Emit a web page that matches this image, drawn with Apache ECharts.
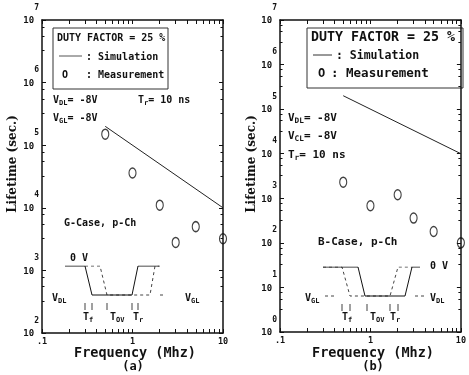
<!DOCTYPE html>
<html>
<head>
<meta charset="utf-8">
<script src="https://cdn.jsdelivr.net/npm/echarts@6/dist/echarts.min.js"></script>
<style>
  html, body { margin: 0; padding: 0; background: #fff; }
  #chart { width: 469px; height: 375px; }
</style>
</head>
<body>
<div id="chart"></div>
<script>
// Lifetime vs. switching frequency, duty factor 25 %
const simFreq = [0.5, 10];
const simLife = [2.0e5, 1.0e4];
const measFreq = [0.5, 1, 2, 3, 5, 10];
const measLifeG = [1.5e5, 3.6e4, 1.1e4, 2.8e3, 5.0e3, 3.2e3];   // (a) G-Case
const measLifeB = [2.3e3, 6.8e2, 1.2e3, 3.6e2, 1.8e2, 1.0e2];   // (b) B-Case
const xTickLabels = { 0.1: '.1', 1: '1', 10: '10' };
const xMinorValues = [0.1,0.2,0.3,0.4,0.5,0.6,0.7,0.8,0.9,1,2,3,4,5,6,7,8,9,10];

// Pulse schematics (time units, level 1 = 0 V, level 0 = low level)
const waveA_solid  = [[5,1],[25,1],[32,0],[72,0],[78,1],[99,1]];
const waveA_dashed = [[25,1],[40,1],[47,0],[72,0],[90,0],[95,1],[100,1]];
const waveA_lowDash = [[100,0],[106,0]];
const waveA_marks = [25, 32, 47, 72, 78];
const waveB_solid  = [[8,1],[43,1],[50,0],[90,0],[97,1],[105,1]];
const waveB_dashed = [[8,1],[27,1],[35,0],[75,0],[83,1],[97,1]];
const waveB_lowDashL = [[10,0],[20,0]];
const waveB_lowDashR = [[100,0],[110,0]];
const waveB_marks = [27, 35, 52, 75, 83];

const FONT = 'DejaVu Sans Mono';
const INK = '#111';

function pairs(xs, ys) { return xs.map((x, i) => [x, ys[i]]); }

function yLabel(v) {
  return '{b|10}{e|' + Math.round(Math.log10(v)) + '}';
}
const yRich = {
  b: { fontFamily: FONT, fontWeight: 'bold', fontSize: 9, color: INK, verticalAlign: 'bottom', lineHeight: 22 },
  e: { fontFamily: FONT, fontWeight: 'bold', fontSize: 8, color: INK, verticalAlign: 'top', lineHeight: 22 }
};

const grids = [
  { left: 42, top: 20, width: 181, height: 313 },
  { left: 280, top: 20, width: 184, height: 312 },
  { left: 60, top: 266, width: 110, height: 46.4 },
  { left: 315, top: 267, width: 115, height: 46.4 }
];

function xMain(gi, pos, labels) {
  return {
    type: 'log', logBase: 10, gridIndex: gi, position: pos, min: 0.1, max: 10,
    axisLine: { show: true, lineStyle: { color: INK, width: 1.5 } },
    axisTick: { show: true, inside: true, length: 4, customValues: xMinorValues, lineStyle: { color: INK } },
    splitLine: { show: false },
    axisLabel: labels ? {
      show: true, margin: 4, color: INK, fontFamily: FONT, fontWeight: 'bold', fontSize: 8.5,
      formatter: v => xTickLabels[v] !== undefined ? xTickLabels[v] : ''
    } : { show: false }
  };
}
function yMain(gi, pos, min, labels) {
  return {
    type: 'log', logBase: 10, gridIndex: gi, position: pos, min: min, max: 1e7,
    axisLine: { show: true, lineStyle: { color: INK, width: 1.5 } },
    axisTick: { show: true, inside: true, length: 4, lineStyle: { color: INK } },
    minorTick: { show: true, splitNumber: 4, length: 2.5, lineStyle: { color: INK } },
    splitLine: { show: false },
    axisLabel: labels ? {
      show: true, margin: 3, formatter: yLabel, rich: yRich, padding: [0, 0, 11, 0]
    } : { show: false }
  };
}
function insetAxisX(gi) {
  return { type: 'value', gridIndex: gi, min: 0, max: gi === 2 ? 110 : 115, show: false };
}
function insetAxisY(gi) {
  return { type: 'value', gridIndex: gi, min: -0.6, max: 1, show: false };
}

function txt(x, y, text, size, extra) {
  return {
    type: 'text', x: x, y: y,
    style: Object.assign({
      text: text, fontFamily: FONT, fontWeight: 'bold', fontSize: size, fill: INK,
      verticalAlign: 'middle', rich: {
        s: { fontFamily: FONT, fontWeight: 'bold', fontSize: size * 0.7, fill: INK, padding: [size * 0.6, 0, 0, 0] },
        n: { fontFamily: FONT, fontWeight: 'bold', fontSize: size, fill: INK }
      }
    }, extra || {})
  };
}

const graphic = [
  // legend box (a)
  { type: 'rect', shape: { x: 53, y: 28, width: 115, height: 61 }, style: { fill: 'none', stroke: '#333', lineWidth: 1 } },
  txt(57, 38, 'DUTY FACTOR = 25 %', 10),
  { type: 'line', shape: { x1: 59, y1: 56, x2: 82, y2: 56 }, style: { stroke: '#555', lineWidth: 1 } },
  txt(86, 57, ': Simulation', 10),
  txt(62, 75, 'O', 10),
  txt(86, 75, ': Measurement', 10),
  txt(53, 100, '{n|V}{s|DL}{n|= -8V}', 10),
  txt(138, 100, '{n|T}{s|r}{n|= 10 ns}', 10),
  txt(53, 118, '{n|V}{s|GL}{n|= -8V}', 10),
  txt(64, 223, 'G-Case, p-Ch', 10),
  // pulse labels (a)
  txt(70, 258, '0 V', 10),
  txt(52, 298, '{n|V}{s|DL}', 10),
  txt(185, 298, '{n|V}{s|GL}', 10),
  txt(83, 317, '{n|T}{s|f}', 10),
  txt(110, 317, '{n|T}{s|OV}', 10),
  txt(133, 317, '{n|T}{s|r}', 10),

  // legend box (b)
  { type: 'rect', shape: { x: 307, y: 28, width: 156, height: 60 }, style: { fill: 'none', stroke: '#333', lineWidth: 1 } },
  txt(311, 38, 'DUTY FACTOR = 25 %', 13.3),
  { type: 'line', shape: { x1: 313, y1: 55, x2: 332, y2: 55 }, style: { stroke: '#333', lineWidth: 1 } },
  txt(336, 56, ': Simulation', 11.5),
  txt(318, 74, 'O', 12),
  txt(331, 74, ': Measurement', 12.5),
  txt(288, 118, '{n|V}{s|DL}{n|= -8V}', 11),
  txt(288, 136, '{n|V}{s|CL}{n|= -8V}', 11),
  txt(288, 155, '{n|T}{s|r}{n|= 10 ns}', 11),
  txt(318, 242, 'B-Case, p-Ch', 11),
  // pulse labels (b)
  txt(430, 266, '0 V', 10),
  txt(305, 298, '{n|V}{s|GL}', 10),
  txt(430, 298, '{n|V}{s|DL}', 10),
  txt(342, 317, '{n|T}{s|f}', 10),
  txt(370, 317, '{n|T}{s|OV}', 10),
  txt(390, 317, '{n|T}{s|r}', 10),

  // axis titles
  txt(135, 353, 'Frequency (Mhz)', 13.5, { align: 'center' }),
  txt(133, 367, '(a)', 12, { align: 'center' }),
  txt(373, 353, 'Frequency (Mhz)', 13.5, { align: 'center' }),
  txt(373, 367, '(b)', 12, { align: 'center' }),
  { type: 'text', x: 13, y: 164, rotation: Math.PI / 2,
    style: { text: 'Lifetime (sec.)', fontFamily: 'DejaVu Serif', fontWeight: 'bold', fontSize: 12, fill: INK, align: 'center', verticalAlign: 'middle' } },
  { type: 'text', x: 252, y: 164, rotation: Math.PI / 2,
    style: { text: 'Lifetime (sec.)', fontFamily: 'DejaVu Serif', fontWeight: 'bold', fontSize: 12, fill: INK, align: 'center', verticalAlign: 'middle' } }
];

const simStyle = { color: '#222', width: 1 };
const measStyle = { color: 'rgba(0,0,0,0)', borderColor: INK, borderWidth: 1.3 };

function marksData(xs) { return xs.map(x => [x, -0.4]); }

const option = {
  backgroundColor: '#fff',
  animation: false,
  grid: grids,
  xAxis: [
    xMain(0, 'bottom', true), xMain(0, 'top', false),
    xMain(1, 'bottom', true), xMain(1, 'top', false),
    insetAxisX(2), insetAxisX(3)
  ],
  yAxis: [
    yMain(0, 'left', 100, true), yMain(0, 'right', 100, false),
    yMain(1, 'left', 1, true), yMain(1, 'right', 1, false),
    insetAxisY(2), insetAxisY(3)
  ],
  series: [
    { type: 'line', xAxisIndex: 0, yAxisIndex: 0, data: pairs(simFreq, simLife), symbol: 'none', lineStyle: simStyle },
    { type: 'scatter', xAxisIndex: 0, yAxisIndex: 0, data: pairs(measFreq, measLifeG), symbol: 'circle', symbolSize: [7, 10], itemStyle: measStyle, clip: false },
    { type: 'line', xAxisIndex: 2, yAxisIndex: 2, data: pairs(simFreq, simLife), symbol: 'none', lineStyle: simStyle },
    { type: 'scatter', xAxisIndex: 2, yAxisIndex: 2, data: pairs(measFreq, measLifeB), symbol: 'circle', symbolSize: [7, 10], itemStyle: measStyle, clip: false },

    // pulse schematic (a)
    { type: 'line', xAxisIndex: 4, yAxisIndex: 4, data: waveA_dashed, symbol: 'none', lineStyle: { color: '#444', width: 1, type: [3, 3] } },
    { type: 'line', xAxisIndex: 4, yAxisIndex: 4, data: waveA_lowDash, symbol: 'none', lineStyle: { color: '#444', width: 1, type: [3, 3] } },
    { type: 'line', xAxisIndex: 4, yAxisIndex: 4, data: waveA_solid, symbol: 'none', lineStyle: { color: INK, width: 1 } },
    { type: 'scatter', xAxisIndex: 4, yAxisIndex: 4, data: marksData(waveA_marks), symbol: 'rect', symbolSize: [1, 7], itemStyle: { color: INK }, clip: false },

    // pulse schematic (b)
    { type: 'line', xAxisIndex: 5, yAxisIndex: 5, data: waveB_dashed, symbol: 'none', lineStyle: { color: '#444', width: 1, type: [3, 3] } },
    { type: 'line', xAxisIndex: 5, yAxisIndex: 5, data: waveB_lowDashL, symbol: 'none', lineStyle: { color: '#444', width: 1, type: [3, 3] } },
    { type: 'line', xAxisIndex: 5, yAxisIndex: 5, data: waveB_lowDashR, symbol: 'none', lineStyle: { color: '#444', width: 1, type: [3, 3] } },
    { type: 'line', xAxisIndex: 5, yAxisIndex: 5, data: waveB_solid, symbol: 'none', lineStyle: { color: INK, width: 1 } },
    { type: 'scatter', xAxisIndex: 5, yAxisIndex: 5, data: marksData(waveB_marks), symbol: 'rect', symbolSize: [1, 7], itemStyle: { color: INK }, clip: false }
  ],
  graphic: graphic
};

const chart = echarts.init(document.getElementById('chart'), null, { renderer: 'canvas' });
chart.setOption(option);
</script>
</body>
</html>
